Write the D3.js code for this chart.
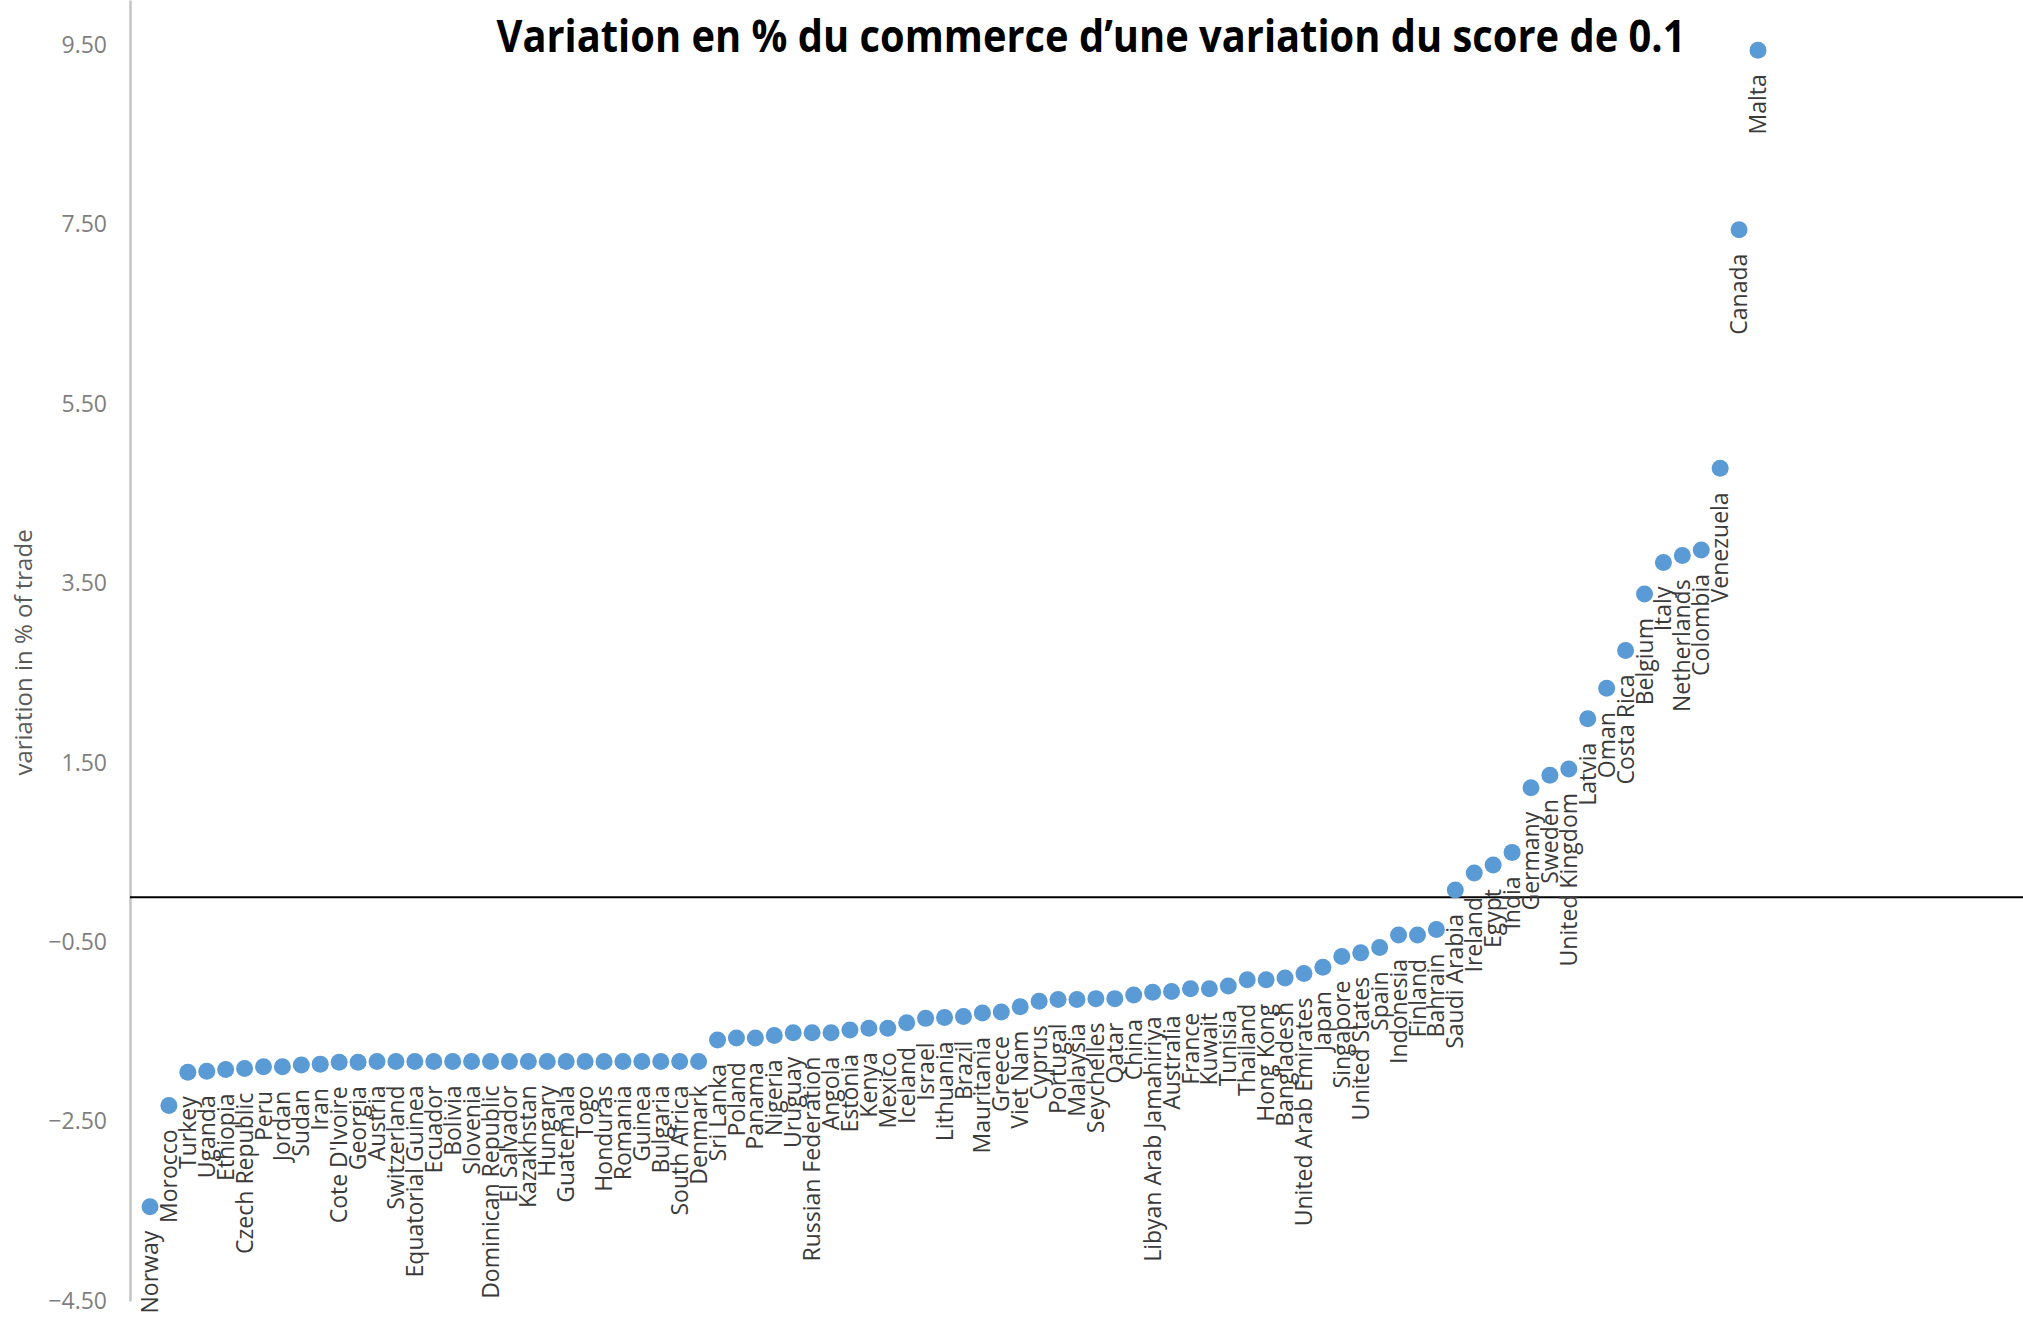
<!DOCTYPE html>
<html>
<head>
<meta charset="utf-8">
<script src="https://cdn.jsdelivr.net/npm/d3@7"></script>
<style>
  body { margin: 0; background: #fff; }
  svg { display: block; }
</style>
</head>
<body>
<svg id="chart"></svg>
<script>
var countries = ["Norway", "Morocco", "Turkey", "Uganda", "Ethiopia", "Czech Republic", "Peru", "Jordan", "Sudan", "Iran",
  "Cote D'Ivoire", "Georgia", "Austria", "Switzerland", "Equatorial Guinea", "Ecuador", "Bolivia", "Slovenia",
  "Dominican Republic", "El Salvador", "Kazakhstan", "Hungary", "Guatemala", "Togo", "Honduras", "Romania", "Guinea",
  "Bulgaria", "South Africa", "Denmark", "Sri Lanka", "Poland", "Panama", "Nigeria", "Uruguay", "Russian Federation",
  "Angola", "Estonia", "Kenya", "Mexico", "Iceland", "Israel", "Lithuania", "Brazil", "Mauritania", "Greece", "Viet Nam",
  "Cyprus", "Portugal", "Malaysia", "Seychelles", "Qatar", "China", "Libyan Arab Jamahiriya", "Australia", "France",
  "Kuwait", "Tunisia", "Thailand", "Hong Kong", "Bangladesh", "United Arab Emirates", "Japan", "Singapore",
  "United States", "Spain", "Indonesia", "Finland", "Bahrain", "Saudi Arabia", "Ireland", "Egypt", "India", "Germany",
  "Sweden", "United Kingdom", "Latvia", "Oman", "Costa Rica", "Belgium", "Italy", "Netherlands", "Colombia",
  "Venezuela", "Canada", "Malta"];

var values = [-3.45, -2.32, -1.95, -1.94, -1.92, -1.91, -1.89, -1.89, -1.87, -1.86,
  -1.84, -1.84, -1.83, -1.83, -1.83, -1.83, -1.83, -1.83,
  -1.83, -1.83, -1.83, -1.83, -1.83, -1.83, -1.83, -1.83, -1.83,
  -1.83, -1.83, -1.83, -1.59, -1.57, -1.57, -1.54, -1.51, -1.51,
  -1.51, -1.48, -1.46, -1.46, -1.40, -1.35, -1.34, -1.33, -1.29, -1.28, -1.22,
  -1.16, -1.14, -1.14, -1.13, -1.13, -1.09, -1.06, -1.05, -1.02,
  -1.02, -0.99, -0.92, -0.92, -0.90, -0.85, -0.78, -0.66,
  -0.62, -0.56, -0.42, -0.42, -0.36, 0.08, 0.27, 0.36, 0.50, 1.22,
  1.36, 1.43, 1.99, 2.33, 2.75, 3.38, 3.73, 3.81, 3.87,
  4.78, 7.44, 9.44];

var yTicks = [-4.5, -2.5, -0.5, 1.5, 3.5, 5.5, 7.5, 9.5];
var yDomain = [-4.5, 10];

var title = "Variation en % du commerce d\u2019une variation du score de 0.1";
var yLabel = "variation in % of trade";

var data = countries.map(function(c, i) { return {country: c, value: values[i]}; });

var W = 2023, H = 1323;
var margin = {top: 0, right: 0, bottom: 22, left: 130};

var svg = d3.select("#chart")
    .attr("width", W)
    .attr("height", H);

var x = d3.scalePoint()
    .domain(countries)
    .range([margin.left + 20, 1758]);

var y = d3.scaleLinear()
    .domain(yDomain)
    .range([H - margin.bottom, margin.top]);

// y axis: grey line, labels only
var yAxis = d3.axisLeft(y)
    .tickValues(yTicks)
    .tickFormat(d3.format(".2f"))
    .tickSize(0)
    .tickPadding(23);

var gy = svg.append("g")
    .attr("transform", "translate(" + margin.left + ",0)")
    .call(yAxis);

gy.select(".domain")
    .attr("stroke", "#c4c4c4")
    .attr("stroke-width", 2.5);

gy.selectAll(".tick text")
    .style("font-family", "'Open Sans', sans-serif")
    .style("font-size", "23px")
    .attr("fill", "#7f7f7f");

svg.append("text")
    .attr("transform", "translate(24," + ((y(-4.5) + y(10)) / 2 + 2) + ") rotate(-90)")
    .attr("text-anchor", "middle")
    .attr("dy", "0.35em")
    .style("font-family", "'Open Sans', sans-serif")
    .style("font-size", "24px")
    .attr("fill", "#595959")
    .text(yLabel);

// zero line
svg.append("line")
    .attr("x1", margin.left)
    .attr("x2", W)
    .attr("y1", y(0))
    .attr("y2", y(0))
    .attr("stroke", "#000")
    .attr("stroke-width", 2);

// points
svg.append("g").selectAll(".dot")
    .data(data)
  .enter().append("circle")
    .attr("class", "dot")
    .attr("r", 8.5)
    .attr("cx", function(d) { return x(d.country); })
    .attr("cy", function(d) { return y(d.value); })
    .style("fill", "#5b9bd5");

// country labels under each point
svg.append("g").selectAll(".lbl")
    .data(data)
  .enter().append("text")
    .attr("class", "lbl")
    .attr("transform", function(d) {
      return "translate(" + x(d.country) + "," + (y(d.value) + 24) + ") rotate(-90)";
    })
    .attr("text-anchor", "end")
    .attr("dy", "0.35em")
    .style("font-family", "'Open Sans', sans-serif")
    .style("font-size", "23px")
    .attr("fill", "#3a3a3a")
    .text(function(d) { return d.country; });

svg.append("text")
    .attr("x", 1091)
    .attr("y", 52)
    .attr("text-anchor", "middle")
    .attr("textLength", 1189)
    .attr("lengthAdjust", "spacingAndGlyphs")
    .style("font-family", "'Open Sans', sans-serif")
    .style("font-weight", "bold")
    .style("font-size", "44px")
    .attr("fill", "#000")
    .text(title);
</script>
</body>
</html>
